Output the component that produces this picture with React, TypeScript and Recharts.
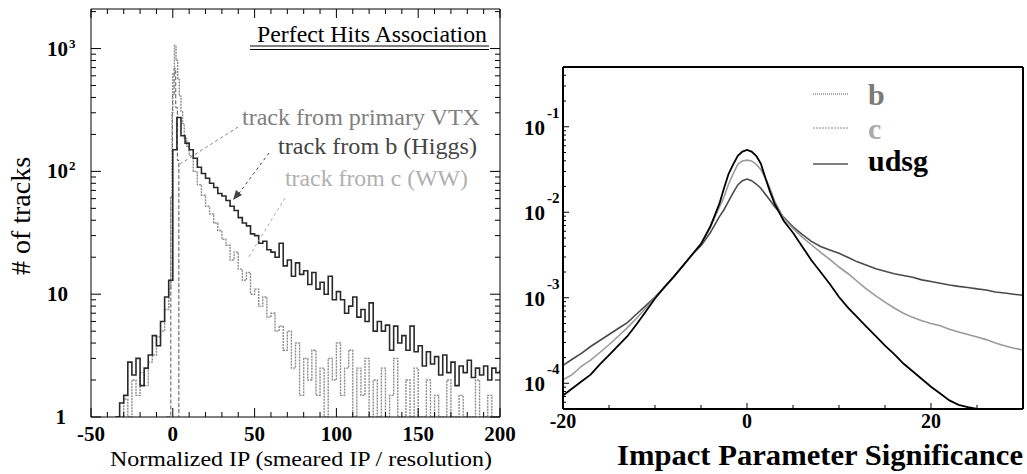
import React from 'react';
import { LineChart, Line, XAxis, YAxis } from 'recharts';

const SERIF = "'Liberation Serif', 'Times New Roman', serif";

// ---- left panel: normalized IP histograms (bin starts)
const ipBins = [
  -35, -32.5, -30, -27.5, -25, -22.5, -20, -17.5, -15, -12.5,
  -10, -7.5, -5, -2.5, 0, 2.5, 5, 7.5, 10, 12.5,
  15, 17.5, 20, 22.5, 25, 27.5, 30, 32.5, 35, 37.5,
  40, 42.5, 45, 47.5, 50, 52.5, 55, 57.5, 60, 62.5,
  65, 67.5, 70, 72.5, 75, 77.5, 80, 82.5, 85, 87.5,
  90, 92.5, 95, 97.5, 100, 102.5, 105, 107.5, 110, 112.5,
  115, 117.5, 120, 122.5, 125, 127.5, 130, 132.5, 135, 137.5,
  140, 142.5, 145, 147.5, 150, 152.5, 155, 157.5, 160, 162.5,
  165, 167.5, 170, 172.5, 175, 177.5, 180, 182.5, 185, 187.5,
  190, 192.5, 195, 197.5, 200,
];
const bHiggs = [
  1, 1.3, 1.5, 2.8, 2.2, 3, 1.8, 2.5, 3.2, 4.6,
  3.8, 6, 9.5, 13, 150, 275, 195, 170, 150, 128,
  108, 96, 88, 80, 74, 66, 63, 58, 52, 48,
  42, 38, 36, 31, 30, 26, 27, 23, 22, 20,
  26, 17, 19, 14, 18, 14.5, 15.5, 12, 15, 11,
  12.5, 10, 14, 9, 10.5, 9, 7, 8, 9.5, 6.5,
  7.5, 6, 8.5, 5, 6, 5, 5.6, 3.5, 5.5, 4,
  4.6, 3.5, 5.5, 3.4, 3.8, 2.6, 3.4, 2.7, 3.1, 2.2,
  3.2, 2.3, 2.8, 1.8, 2.6, 2.3, 2.9, 2.1, 2.5, 2.2,
  2.6, 2, 2.5, 2.3, 2.4,
];
// c histogram has finer bins around its narrow peak
const cBins = [
  -35, -32.5, -30, -27.5, -25, -22.5, -20, -17.5, -15, -12.5,
  -10, -7.5, -5, -2.5, -1.25, -0.5, 0, 1, 2, 3, 4, 5, 6, 7, 8.5, 10, 12.5,
  15, 17.5, 20, 22.5, 25, 27.5, 30, 32.5, 35, 37.5,
  40, 42.5, 45, 47.5, 50, 52.5, 55, 57.5, 60, 62.5,
  65, 67.5, 70, 72.5, 75, 77.5, 80, 82.5, 85, 87.5,
  90, 92.5, 95, 97.5, 100, 102.5, 105, 107.5, 110, 112.5,
  115, 117.5, 120, 122.5, 125, 127.5, 130, 132.5, 135, 137.5,
  140, 142.5, 145, 147.5, 150, 152.5, 155, 157.5, 160, 162.5,
  165, 167.5, 170, 172.5, 175, 177.5, 180, 182.5, 185, 187.5,
  190, 192.5, 195, 197.5, 200,
];
const cWW = [
  1, 1, 1.4, 1, 2, 1.5, 2.3, 1.8, 2.8, 3.2,
  4.5, 5, 7.5, 11, 62, 300, 620, 1060, 800, 560, 410, 310, 245, 185, 160, 135, 100,
  78, 64, 52, 45, 38, 33, 28, 25, 19, 22,
  16, 13, 15, 10, 11, 8, 9.5, 6.5, 7, 5,
  5.5, 3.5, 5, 2.5, 4, 1.5, 3, 2, 3.5, 1.5,
  2.5, 1, 3, 2, 4, 1.5, 2.5, 3.5, 1, 2.5,
  1.5, 3, 1, 2, 1, 2.5, 1, 1.5, 3, 1,
  1, 2, 1, 2.5, 1, 1, 2, 1, 1.5, 1,
  1, 2, 1, 1, 1.5, 1, 1, 1, 2, 1,
  1, 1.5, 1, 1, 1,
];
const primaryBins = [-4, -1.2, -0.2, 0.8, 1.8, 2.8, 3.7];
const primaryVtx = [1, 62, 420, 690, 330, 123, 1];

const leftXTicks = [-50, -40, -30, -20, -10, 0, 10, 20, 30, 40, 50, 60, 70, 80, 90, 100, 110, 120, 130, 140, 150, 160, 170, 180, 190, 200];
const leftYTicks = [1, 2, 3, 4, 5, 6, 7, 8, 9, 10, 20, 30, 40, 50, 60, 70, 80, 90, 100, 200, 300, 400, 500, 600, 700, 800, 900, 1000, 2000];

// ---- right panel: impact parameter significance
const sigX = [
  -20, -19, -18, -17, -16, -15, -14, -13, -12, -11, -10, -9, -8, -7, -6, -5, -4, -3,
  -2.5, -2, -1.5, -1, -0.5, 0, 0.5, 1, 1.5, 2, 2.5, 3,
  4, 5, 6, 7, 8, 9, 10, 11, 12, 13, 14, 15, 16, 17, 18, 19, 20, 21, 22, 23, 24, 25, 26, 27, 28, 29, 30,
];
const udsgVals = [
  7.2e-5, 8.7e-5, 1.05e-4, 1.26e-4, 1.66e-4, 2.14e-4, 2.75e-4, 3.55e-4, 4.9e-4, 6.9e-4, 9.8e-4, 1.32e-3, 1.74e-3, 2.34e-3, 3.16e-3, 4.27e-3, 6.76e-3, 0.0126,
  0.0191, 0.0282, 0.0363, 0.0457, 0.0513, 0.0537, 0.0513, 0.0457, 0.0372, 0.0251, 0.0174, 0.0126,
  7.9e-3, 5.75e-3, 3.98e-3, 2.75e-3, 2.0e-3, 1.45e-3, 1.02e-3, 7.6e-4, 5.9e-4, 4.57e-4, 3.55e-4, 2.75e-4, 2.19e-4, 1.7e-4, 1.38e-4, 1.12e-4, 9.1e-5, 7.6e-5, 6.3e-5, 5.6e-5, 5.25e-5, 5.0e-5, null, null, null, null, null,
];
const cVals = [
  1.1e-4, 1.26e-4, 1.58e-4, 1.86e-4, 2.29e-4, 2.82e-4, 3.55e-4, 4.47e-4, 5.75e-4, 7.6e-4, 1.0e-3, 1.32e-3, 1.74e-3, 2.34e-3, 3.16e-3, 4.27e-3, 6.6e-3, 0.0115,
  0.0151, 0.0214, 0.0282, 0.0363, 0.0398, 0.0407, 0.0398, 0.0363, 0.0316, 0.0251, 0.0191, 0.0135,
  8.5e-3, 6.46e-3, 5.13e-3, 4.17e-3, 3.39e-3, 2.82e-3, 2.29e-3, 1.91e-3, 1.55e-3, 1.26e-3, 1.05e-3, 8.9e-4, 7.6e-4, 6.6e-4, 5.9e-4, 5.4e-4, 5.0e-4, 4.7e-4, 4.27e-4, 3.98e-4, 3.72e-4, 3.47e-4, 3.24e-4, 2.95e-4, 2.75e-4, 2.57e-4, 2.45e-4,
];
const bVals = [
  1.62e-4, 1.91e-4, 2.24e-4, 2.69e-4, 3.16e-4, 3.72e-4, 4.37e-4, 5.13e-4, 6.46e-4, 8.1e-4, 1.02e-3, 1.32e-3, 1.74e-3, 2.34e-3, 3.16e-3, 4.07e-3, 5.75e-3, 8.9e-3,
  0.0107, 0.0135, 0.017, 0.0209, 0.0234, 0.0245, 0.0234, 0.0214, 0.0191, 0.0162, 0.0138, 0.0117,
  8.7e-3, 6.76e-3, 5.5e-3, 4.57e-3, 3.98e-3, 3.63e-3, 3.31e-3, 2.95e-3, 2.63e-3, 2.4e-3, 2.19e-3, 2.04e-3, 1.91e-3, 1.82e-3, 1.74e-3, 1.62e-3, 1.55e-3, 1.48e-3, 1.41e-3, 1.36e-3, 1.32e-3, 1.27e-3, 1.23e-3, 1.17e-3, 1.135e-3, 1.1e-3, 1.07e-3,
];

const sigXTicks = [-20, -15, -10, -5, 0, 5, 10, 15, 20, 25, 30];
const sigYTicks = [
  5e-5, 6e-5, 7e-5, 8e-5, 9e-5,
  1e-4, 2e-4, 3e-4, 4e-4, 5e-4, 6e-4, 7e-4, 8e-4, 9e-4,
  1e-3, 2e-3, 3e-3, 4e-3, 5e-3, 6e-3, 7e-3, 8e-3, 9e-3,
  0.01, 0.02, 0.03, 0.04, 0.05, 0.06, 0.07, 0.08, 0.09,
  0.1, 0.2, 0.3, 0.4, 0.5,
];

const toPoints = (xs: number[], vs: (number | null)[]) => xs.map((x, i) => ({ x, v: vs[i] }));

const bData = toPoints(ipBins, bHiggs);
const cData = toPoints(cBins, cWW);
const pvData = toPoints(primaryBins, primaryVtx);
const udsgData = toPoints(sigX, udsgVals);
const cSigData = toPoints(sigX, cVals);
const bSigData = toPoints(sigX, bVals);

const decade = (v: number) => {
  const l = Math.log10(v);
  return Math.abs(l - Math.round(l)) < 1e-6 ? Math.round(l) : null;
};

const bold = { fontFamily: SERIF, fontWeight: 'bold' as const, fill: '#000' };

// left panel ticks (drawn inward)
const LeftYTick = (p: any) => {
  const { x, y, payload } = p;
  const e = decade(payload.value);
  return (
    <g>
      <line x1={x} y1={y} x2={x + (e !== null ? 10 : 5)} y2={y} stroke="#000" />
      {e === 0 && <text x={x - 25} y={y + 7} textAnchor="end" fontSize={21} {...bold}>1</text>}
      {e !== null && e >= 1 && (
        <text x={x - 23} y={y + 7} textAnchor="end" fontSize={21} {...bold}>10</text>
      )}
      {e !== null && e >= 2 && (
        <text x={x - 22} y={y - 1} fontSize={13} {...bold}>{e}</text>
      )}
    </g>
  );
};
const LeftYTickRight = (p: any) => {
  const { x, y, payload } = p;
  const e = decade(payload.value);
  return <line x1={x} y1={y} x2={x - (e !== null ? 10 : 5)} y2={y} stroke="#000" />;
};
const LeftXTick = (p: any) => {
  const { x, y, payload } = p;
  const major = payload.value % 50 === 0;
  return (
    <g>
      <line x1={x} y1={y} x2={x} y2={y - (major ? 9 : 5)} stroke="#000" />
      {major && <text x={x} y={y + 24} textAnchor="middle" fontSize={21} {...bold}>{payload.value}</text>}
    </g>
  );
};
const LeftXTickTop = (p: any) => {
  const { x, y, payload } = p;
  const major = payload.value % 50 === 0;
  return <line x1={x} y1={y} x2={x} y2={y + (major ? 9 : 5)} stroke="#000" />;
};

// right panel ticks
const SigYTick = (p: any) => {
  const { x, y, payload } = p;
  const e = decade(payload.value);
  return (
    <g>
      <line x1={x} y1={y} x2={x + (e !== null ? 6 : 3)} y2={y} stroke="#000" />
      {e !== null && (
        <>
          <text x={x - 18} y={y + 8} textAnchor="end" fontSize={21} {...bold}>10</text>
          <text x={x - 16} y={y - 9} fontSize={15} {...bold}>{e}</text>
        </>
      )}
    </g>
  );
};
const SigXTick = (p: any) => {
  const { x, y, payload } = p;
  const major = payload.value % 20 === 0;
  return (
    <g>
      <line x1={x} y1={y} x2={x} y2={y - (major ? 6 : 4)} stroke="#000" />
      {major && <text x={x} y={y + 19} textAnchor="middle" fontSize={20} {...bold}>{payload.value}</text>}
    </g>
  );
};
const NoTick = () => <g />;

// axes get 1px of room: recharts skips drawing an axis whose width or height is 0
const axisBase = { tickSize: 0, tickMargin: 0, tickLine: false, interval: 0 as const, allowDataOverflow: true };

export default function App() {
  return (
    <div style={{ position: 'absolute', left: 0, top: 0, width: 1027, height: 474, background: '#fff', overflow: 'hidden' }}>
      <div style={{ position: 'absolute', left: 0, top: 0 }}>
        <LineChart width={520} height={474} margin={{ top: 8, right: 19, bottom: 56, left: 90 }}>
          <XAxis xAxisId="b" dataKey="x" type="number" domain={[-50, 200]} ticks={leftXTicks} height={1}
            axisLine={{ stroke: '#000' }} tick={LeftXTick} {...axisBase} />
          <XAxis xAxisId="t" dataKey="x" orientation="top" type="number" domain={[-50, 200]} ticks={leftXTicks} height={1}
            axisLine={{ stroke: '#000' }} tick={LeftXTickTop} {...axisBase} />
          <YAxis yAxisId="l" type="number" scale="log" domain={[1, 2100]} ticks={leftYTicks} width={1}
            axisLine={{ stroke: '#000' }} tick={LeftYTick} {...axisBase} />
          <YAxis yAxisId="r" orientation="right" type="number" scale="log" domain={[1, 2100]} ticks={leftYTicks} width={1}
            axisLine={{ stroke: '#000' }} tick={LeftYTickRight} {...axisBase} />
          <Line xAxisId="b" yAxisId="l" data={pvData} dataKey="v" type="stepAfter" stroke="#555" strokeWidth={1}
            strokeDasharray="4 2" dot={false} isAnimationActive={false} />
          <Line xAxisId="b" yAxisId="l" data={cData} dataKey="v" type="stepAfter" stroke="#8c8c8c" strokeWidth={1.4}
            strokeDasharray="2 1" dot={false} isAnimationActive={false} />
          <Line xAxisId="b" yAxisId="l" data={bData} dataKey="v" type="stepAfter" stroke="#2a2a2a" strokeWidth={1.6}
            dot={false} isAnimationActive={false} />
        </LineChart>
      </div>

      <div style={{ position: 'absolute', left: 520, top: 0 }}>
        <LineChart width={507} height={474} margin={{ top: 66, right: 3, bottom: 64, left: 42 }}>
          <XAxis xAxisId="b" dataKey="x" type="number" domain={[-20, 30]} ticks={sigXTicks} height={1}
            axisLine={{ stroke: '#000', strokeWidth: 2 }} tick={SigXTick} {...axisBase} />
          <XAxis xAxisId="t" dataKey="x" orientation="top" type="number" domain={[-20, 30]} ticks={[]} height={1}
            axisLine={{ stroke: '#000', strokeWidth: 2 }} tick={NoTick} {...axisBase} />
          <YAxis yAxisId="l" type="number" scale="log" domain={[5e-5, 0.5]} ticks={sigYTicks} width={1}
            axisLine={{ stroke: '#000', strokeWidth: 2 }} tick={SigYTick} {...axisBase} />
          <YAxis yAxisId="r" orientation="right" type="number" scale="log" domain={[5e-5, 0.5]} ticks={[]} width={1}
            axisLine={{ stroke: '#000', strokeWidth: 2 }} tick={NoTick} {...axisBase} />
          <Line xAxisId="b" yAxisId="l" data={bSigData} dataKey="v" type="linear" stroke="#4a4a4a" strokeWidth={1.6}
            dot={false} isAnimationActive={false} />
          <Line xAxisId="b" yAxisId="l" data={cSigData} dataKey="v" type="linear" stroke="#9a9a9a" strokeWidth={1.6}
            dot={false} isAnimationActive={false} />
          <Line xAxisId="b" yAxisId="l" data={udsgData} dataKey="v" type="linear" stroke="#000" strokeWidth={1.8}
            dot={false} isAnimationActive={false} connectNulls={false} />
        </LineChart>
      </div>

      <svg width={1027} height={474} style={{ position: 'absolute', left: 0, top: 0, pointerEvents: 'none' }}>
        {/* left panel annotations */}
        <text x={257} y={42} textLength={230} lengthAdjust="spacingAndGlyphs" fontFamily={SERIF} fontSize={24} fill="#000">Perfect Hits Association</text>
        <line x1={250} y1={46} x2={489} y2={46} stroke="#000" />
        <line x1={250} y1={49.5} x2={489} y2={49.5} stroke="#000" />

        <text x={242} y={125} textLength={238} lengthAdjust="spacingAndGlyphs" fontFamily={SERIF} fontSize={23} fill="#808080">track from primary VTX</text>
        <line x1={238} y1={127} x2={180} y2={164} stroke="#808080" strokeDasharray="3 3" />
        <text x={278} y={154} textLength={199} lengthAdjust="spacingAndGlyphs" fontFamily={SERIF} fontSize={23} fill="#444">track from b (Higgs)</text>
        <line x1={269} y1={153} x2={237} y2={196} stroke="#444" strokeDasharray="3 3" />
        <polygon points="233,200 236,190 242,195" fill="#444" />
        <text x={285} y={186} textLength={183} lengthAdjust="spacingAndGlyphs" fontFamily={SERIF} fontSize={23} fill="#b0b0b0">track from c (WW)</text>
        <line x1={285} y1={198} x2={248} y2={258} stroke="#aaa" strokeDasharray="3 3" />

        <text x={30} y={216} transform="rotate(-90 30 216)" textAnchor="middle" fontFamily={SERIF} fontSize={28} fill="#000"># of tracks</text>
        <text x={110} y={466} textLength={382} lengthAdjust="spacingAndGlyphs" fontFamily={SERIF} fontSize={21} fill="#000">Normalized IP (smeared IP / resolution)</text>

        {/* right panel legend */}
        <line x1={813} y1={94} x2={848} y2={94} stroke="#555" strokeDasharray="1 1" />
        <text x={868} y={105} fontFamily={SERIF} fontWeight="bold" fontSize={30} fill="#7a7a7a">b</text>
        <line x1={813} y1={128} x2={848} y2={128} stroke="#888" strokeDasharray="2 1" />
        <text x={868} y={139} fontFamily={SERIF} fontWeight="bold" fontSize={30} fill="#aaa">c</text>
        <line x1={813} y1={164} x2={848} y2={164} stroke="#000" strokeWidth={1.2} />
        <text x={868} y={171} fontFamily={SERIF} fontWeight="bold" fontSize={30} fill="#000">udsg</text>

        <text x={617} y={465} textLength={406} lengthAdjust="spacingAndGlyphs" fontFamily={SERIF} fontWeight="bold" fontSize={30} fill="#000">Impact Parameter Significance</text>
      </svg>
    </div>
  );
}
